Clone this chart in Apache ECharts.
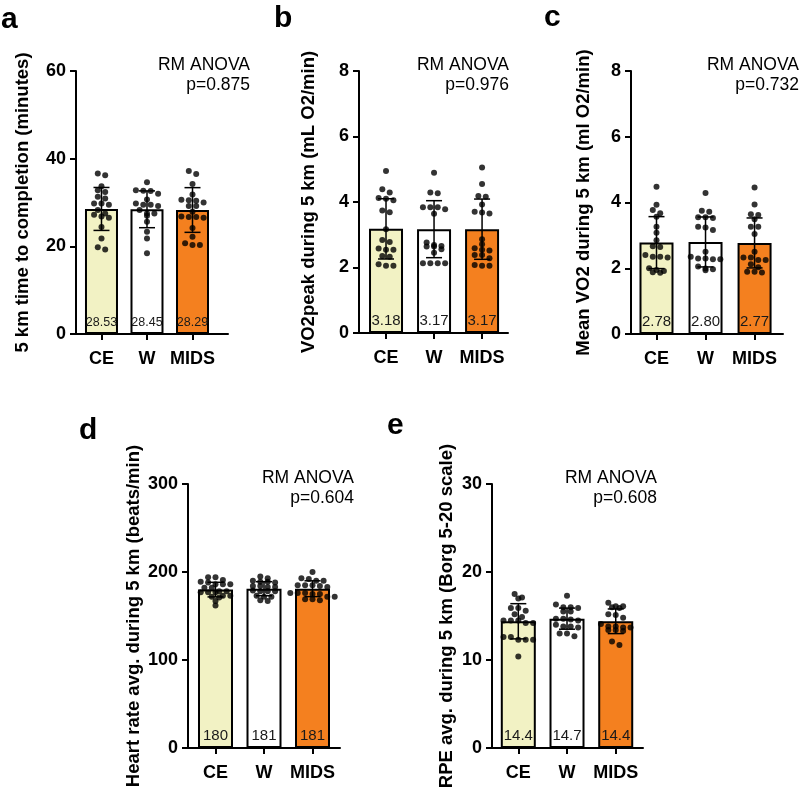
<!DOCTYPE html>
<html><head><meta charset="utf-8">
<script src="https://cdn.jsdelivr.net/npm/echarts@6/dist/echarts.min.js"></script>
<style>html,body{margin:0;padding:0;background:#fff}#c{width:800px;height:787px}</style>
</head><body><div id="c"></div>
<script>
const categories = ['CE', 'W', 'MIDS'];

// Panel a: 5 km time to completion (minutes)
const aTitle = '5 km time to completion (minutes)';
const aP = 'p=0.875';
const aMeans = [28.53, 28.45, 28.29];
const aSD = [4.9, 4.2, 5.1];
const aCE = [36.6, 36.2, 33.7, 32.8, 32.4, 31.3, 30.9, 29.8, 29.8, 29.5, 28.3, 27.5, 27.2, 26.8, 26.5, 24.4, 21.8, 19.8, 19.3];
const aW = [34.6, 32.8, 32.7, 32.6, 32.0, 30.7, 29.8, 29.5, 29.5, 29.2, 28.3, 27.5, 27.5, 27.0, 25.6, 23.3, 21.8, 18.4];
const aMIDS = [37.2, 36.5, 34.2, 31.8, 30.6, 30.4, 30.5, 30.0, 29.2, 29.2, 27.9, 26.8, 26.7, 26.7, 26.5, 24.2, 22.2, 20.7, 20.3, 20.3];

// Panel b: VO2peak
const bTitle = 'VO2peak during 5 km (mL O2/min)';
const bP = 'p=0.976';
const bMeans = [3.18, 3.17, 3.17];
const bSD = [0.92, 0.87, 0.92];
const bCE = [4.95, 4.39, 4.29, 4.05, 4.10, 4.12, 3.69, 3.74, 3.17, 2.78, 2.84, 2.54, 2.54, 2.58, 2.35, 2.33, 2.05, 2.10, 2.05];
const bW = [4.89, 4.29, 4.27, 3.78, 3.84, 3.84, 3.84, 3.64, 2.76, 2.69, 2.64, 2.56, 2.64, 2.66, 2.13, 2.13, 2.13, 2.13, 2.45];
const bMIDS = [5.05, 4.55, 4.16, 4.18, 3.92, 3.65, 3.70, 3.68, 2.86, 2.71, 2.59, 2.54, 2.52, 2.38, 2.38, 2.28, 2.05, 2.08, 2.05];

// Panel c: Mean VO2
const cTitle = 'Mean VO2 during 5 km (ml O2/min)';
const cP = 'p=0.732';
const cMeans = [2.78, 2.80, 2.77];
const cSD = [0.79, 0.76, 0.76];
const cCE = [4.48, 3.93, 3.77, 3.67, 3.57, 3.26, 3.08, 2.85, 2.67, 2.65, 2.40, 2.35, 2.33, 2.35, 2.00, 1.95, 1.92, 1.88, 1.86];
const cW = [4.29, 3.75, 3.72, 3.55, 3.55, 3.53, 3.26, 3.24, 3.16, 2.50, 2.30, 2.35, 2.27, 2.30, 2.27, 1.94, 2.05, 1.97, 1.99];
const cMIDS = [4.46, 3.94, 3.62, 3.64, 3.49, 3.26, 3.26, 3.04, 2.50, 2.33, 2.25, 2.33, 2.25, 2.12, 1.89, 1.87, 1.89, 2.03];

// Panel d: Heart rate
const dTitle = 'Heart rate avg. during 5 km (beats/min)';
const dP = 'p=0.604';
const dMeans = [180, 181, 181];
const dSD = [8.3, 8, 9];
const dCE = [194, 191, 194, 186, 186, 188, 186, 189, 182, 182, 178, 177, 177, 177, 178, 173, 171, 172, 173, 167, 162];
const dW = [195, 193, 189, 190, 189, 188, 184, 183, 184, 183, 178, 178, 178, 179, 172, 173, 168, 172, 167];
const dMIDS = [200, 192, 190, 193, 190, 184, 185, 183, 185, 185, 176, 175, 176, 175, 176, 169, 168, 169, 172, 172];

// Panel e: RPE
const eTitle = 'RPE avg. during 5 km (Borg 5-20 scale)';
const eP = 'p=0.608';
const eMeans = [14.4, 14.7, 14.4];
const eSD = [2.0, 1.2, 1.4];
const eCE = [17.1, 17.0, 17.5, 15.9, 15.9, 15.6, 15.2, 14.9, 14.5, 14.5, 14.5, 14.2, 14.2, 12.6, 12.3, 12.3, 12.3, 12.6, 10.4];
const eW = [17.3, 15.9, 16.0, 16.3, 16.0, 15.5, 15.5, 14.7, 14.5, 14.7, 14.6, 13.8, 13.7, 14.0, 13.8, 12.7, 13.0, 13.0];
const eMIDS = [16.1, 15.9, 16.5, 16.1, 16.0, 15.1, 15.2, 13.8, 13.7, 13.8, 13.7, 13.4, 13.3, 13.4, 14.1, 12.1, 11.7, 14.8];

const barColors = ['#f2f2c4', '#ffffff', '#f4801f'];
const FONT = '"Liberation Sans", Arial, Helvetica, sans-serif';

const panels = [
  {letter:'a', title:aTitle, p:aP, means:aMeans, sd:aSD, pts:[aCE,aW,aMIDS], yMax:60, yInt:20, dec:2},
  {letter:'b', title:bTitle, p:bP, means:bMeans, sd:bSD, pts:[bCE,bW,bMIDS], yMax:8, yInt:2, dec:2},
  {letter:'c', title:cTitle, p:cP, means:cMeans, sd:cSD, pts:[cCE,cW,cMIDS], yMax:8, yInt:2, dec:2},
  {letter:'d', title:dTitle, p:dP, means:dMeans, sd:dSD, pts:[dCE,dW,dMIDS], yMax:300, yInt:100, dec:0},
  {letter:'e', title:eTitle, p:eP, means:eMeans, sd:eSD, pts:[eCE,eW,eMIDS], yMax:30, yInt:10, dec:1}
];

// layout (positions / sizes)
const layout = [
  {left:76, top:71, width:152, height:263, xMin:0.44, xMax:3.78, barW:33, lblSize:12.5, nameGap:44, anovaX:250, anovaY:65, letterX:1, letterY:19.5},
  {left:359, top:71, width:149, height:262, xMin:0.4375, xMax:3.54, barW:34, lblSize:15, nameGap:41, anovaX:509, anovaY:65, letterX:274, letterY:19},
  {left:631, top:71, width:152, height:263, xMin:0.48, xMax:3.58, barW:34, lblSize:15, nameGap:38, anovaX:799, anovaY:65, letterX:544, letterY:18},
  {left:188, top:484, width:152, height:264, xMin:0.433, xMax:3.567, barW:35, lblSize:15, nameGap:45, anovaX:354, anovaY:478, letterX:79, letterY:431},
  {left:492, top:484, width:151, height:264, xMin:0.46, xMax:3.56, barW:35, lblSize:15, nameGap:36, anovaX:657, anovaY:478, letterX:387, letterY:426}
];

const axisLineStyle = {color:'#000', width:2};
const option = {
  backgroundColor:'#fff',
  animation:false,
  grid: layout.map(l => ({left:l.left, top:l.top, width:l.width, height:l.height, containLabel:false, outerBoundsMode:'none'})),
  xAxis: panels.map((p,i) => ({
    type:'value', gridIndex:i, min:layout[i].xMin, max:layout[i].xMax,
    axisLine:{show:true, onZero:false, lineStyle:axisLineStyle},
    axisTick:{show:true, customValues:[1,2,3], length:6, lineStyle:axisLineStyle},
    axisLabel:{customValues:[1,2,3], formatter:v => categories[Math.round(v)-1] || '', fontSize:18, fontWeight:'bold', color:'#000', fontFamily:FONT, margin:16},
    splitLine:{show:false}
  })),
  yAxis: panels.map((p,i) => ({
    type:'value', gridIndex:i, min:0, max:p.yMax, interval:p.yInt,
    axisLine:{show:true, lineStyle:axisLineStyle},
    axisTick:{show:true, length:6, lineStyle:axisLineStyle},
    axisLabel:{fontSize:18, fontWeight:'bold', color:'#000', fontFamily:FONT, margin:10},
    splitLine:{show:false},
    name:p.title, nameLocation:'middle', nameGap:layout[i].nameGap,
    nameTextStyle:{fontSize:18.5, fontWeight:'bold', color:'#000', fontFamily:FONT}
  })),
  series: [],
  graphic: []
};

panels.forEach((p,i) => {
  const l = layout[i];
  option.series.push({
    type:'bar', id:'bar'+i, xAxisIndex:i, yAxisIndex:i, barWidth:l.barW, z:1,
    data: p.means.map((m,j) => ({value:[j+1, m], itemStyle:{color:barColors[j]}})),
    itemStyle:{borderColor:'#000', borderWidth:2},
    label:{show:true, position:'insideBottom', distance:5,
      formatter: prm => p.means[prm.dataIndex].toFixed(p.dec),
      fontSize:l.lblSize, color:'#1a1a1a', fontFamily:FONT}
  });
  option.series.push({
    type:'scatter', id:'sc'+i, xAxisIndex:i, yAxisIndex:i, symbolSize:6, z:3,
    itemStyle:{color:'#000'}, data:[]
  });
  option.series.push({
    type:'custom', id:'err'+i, xAxisIndex:i, yAxisIndex:i, z:4,
    data: p.means.map((m,j) => [j+1, m - p.sd[j], m + p.sd[j]]),
    renderItem: (params, api) => {
      const x = api.value(0);
      const lo = api.coord([x, api.value(1)]);
      const hi = api.coord([x, api.value(2)]);
      const h = 8;
      const st = {stroke:'#000', lineWidth:1.5};
      return {type:'group', children:[
        {type:'line', shape:{x1:lo[0], y1:lo[1], x2:hi[0], y2:hi[1]}, style:st},
        {type:'line', shape:{x1:lo[0]-h, y1:lo[1], x2:lo[0]+h, y2:lo[1]}, style:st},
        {type:'line', shape:{x1:hi[0]-h, y1:hi[1], x2:hi[0]+h, y2:hi[1]}, style:st}
      ]};
    }
  });
  option.graphic.push({type:'text', style:{text:p.letter, x:l.letterX, y:l.letterY, fontSize:30, fontWeight:'bold', fontFamily:FONT, fill:'#000', verticalAlign:'middle', align:'left'}});
  option.graphic.push({type:'text', style:{text:'RM ANOVA', x:l.anovaX, y:l.anovaY, fontSize:17.5, fontFamily:FONT, fill:'#000', verticalAlign:'middle', align:'right'}});
  option.graphic.push({type:'text', style:{text:p.p, x:l.anovaX, y:l.anovaY+20, fontSize:17.5, fontFamily:FONT, fill:'#000', verticalAlign:'middle', align:'right'}});
});

const chart = echarts.init(document.getElementById('c'), null, {renderer:'canvas'});
chart.setOption(option);

// deterministic row-based swarm placement of dots around each category center
const spacing = 7.4;
const rowH = 3.6;
const upd = panels.map((p,i) => {
  const px1 = chart.convertToPixel({gridIndex:i}, [1, 0]);
  const px2 = chart.convertToPixel({gridIndex:i}, [2, 0]);
  const pxPerX = px2[0] - px1[0];
  const data = [];
  p.pts.forEach((vals, j) => {
    const sorted = vals.slice().sort((a,b) => b - a);
    const rows = [];
    sorted.forEach(v => {
      const py = chart.convertToPixel({gridIndex:i}, [1, v])[1];
      const last = rows[rows.length - 1];
      if (last && py - last.start < rowH) last.vals.push(v);
      else rows.push({start:py, vals:[v]});
    });
    rows.forEach(r => {
      const n = r.vals.length;
      r.vals.forEach((v,k) => {
        const off = (k - (n - 1) / 2) * spacing;
        data.push([j + 1 + off / pxPerX, v]);
      });
    });
  });
  return {id:'sc'+i, data};
});
chart.setOption({series: upd});
</script>
</body></html>
